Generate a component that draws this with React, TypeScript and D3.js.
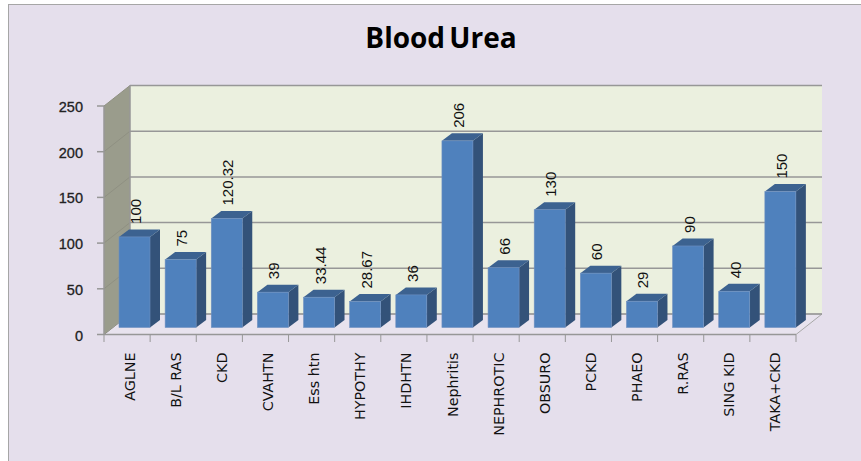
import React from "react";
import * as d3 from "d3";

const categories = ["AGLNE","B/L RAS","CKD","CVAHTN","Ess htn","HYPOTHY","IHDHTN","Nephritis","NEPHROTIC","OBSURO","PCKD","PHAEO","R.RAS","SING KID","TAKA+CKD"];
const values = [100,75,120.32,39,33.44,28.67,36,206,66,130,60,29,90,40,150];
const valueLabels = ["100","75","120.32","39","33.44","28.67","36","206","66","130","60","29","90","40","150"];
const yTicks = [0,50,100,150,200,250];
const font = "'Liberation Sans',Arial,sans-serif";
const W = 861, H = 461;

export default function App() {
  const x = d3.scaleBand<string>().domain(categories).range([104, 796]);
  const y = d3.scaleLinear().domain([0, 250]).range([334.5, 106]);
  const barY = d3.scaleLinear().domain([0, 250]).range([327.5, 101]);
  const dx = 26, dy = -20.5;
  const grid = "#979797";
  const bw = 31, barD = 10, barDy = -7.5, fx = 15;
  return (
    <svg width={W} height={H} style={{ position: "absolute", left: 0, top: 0, background: "#fff" }}>
      <rect x={8.5} y={4.5} width={W} height={H} fill="#e5dfec" stroke="#a6a6a6" />
      <text x={441} y={48} textAnchor="middle" fontFamily="'Open Sans',sans-serif" fontWeight={700} fontSize={28} wordSpacing={-3} fill="#000">Blood Urea</text>
      {/* back wall */}
      <rect x={104 + dx} y={y(250) + dy} width={692} height={y(0) - y(250)} fill="#ebf0df" />
      {/* side wall */}
      <polygon points={`104,${y(250)} ${104 + dx},${y(250) + dy} ${104 + dx},${y(0) + dy} 104,${y(0)}`} fill="#9a9c8c" />
      {/* floor */}
      <polygon points={`104,${y(0)} 796,${y(0)} ${796 + dx},${y(0) + dy} ${104 + dx},${y(0) + dy}`} fill="#e8e3ee" stroke="#a8a8a8" strokeWidth={1} />
      {yTicks.map(t => (
        <g key={t}>
          <line x1={104 + dx} x2={796 + dx} y1={y(t) + dy} y2={y(t) + dy} stroke={grid} strokeWidth={1.5} />
          <line x1={104} x2={104 + dx} y1={y(t)} y2={y(t) + dy} stroke="#8f9082" strokeWidth={1} />
          <line x1={97} x2={104} y1={y(t)} y2={y(t)} stroke={grid} strokeWidth={1.5} />
          <text x={83} y={y(t) + 6} textAnchor="end" fontFamily={font} fontSize={14.5} stroke="#222" strokeWidth={0.3} fill="#222">{t}</text>
        </g>
      ))}
      <line x1={104 + dx} x2={104 + dx} y1={y(250) + dy} y2={y(0) + dy} stroke={grid} strokeWidth={1.5} />
      <line x1={104} x2={104} y1={y(250)} y2={y(0)} stroke={grid} strokeWidth={1.5} />
      <line x1={104} x2={796} y1={y(0)} y2={y(0)} stroke={grid} strokeWidth={1.5} />
      {[...categories.map(c => x(c)!), 796].map((p, i) => (
        <line key={i} x1={p} x2={p} y1={y(0)} y2={y(0) + 7.5} stroke={grid} strokeWidth={1} />
      ))}
      {categories.map((c, i) => {
        const bx = x(c)! + fx;
        const top = barY(values[i]);
        const bot = barY(0);
        const cx = x(c)! + x.bandwidth() / 2;
        return (
          <g key={c}>
            <polygon points={`${bx + bw},${top} ${bx + bw + barD},${top + barDy} ${bx + bw + barD},${bot + barDy} ${bx + bw},${bot}`} fill="#335279" />
            <polygon points={`${bx},${top} ${bx + barD},${top + barDy} ${bx + bw + barD},${top + barDy} ${bx + bw},${top}`} fill="#3c6290" />
            <rect x={bx} y={top} width={bw} height={bot - top} fill="#4f81bd" stroke="#6f90c0" strokeWidth={0.6} />
            <text transform={`translate(${bx + 22},${top - 13}) rotate(-90)`} fontFamily={font} fontSize={15} fill="#111">{valueLabels[i]}</text>
            <text transform={`translate(${cx + 7.5},352.5) rotate(-90)`} textAnchor="end" fontFamily="'DejaVu Sans',sans-serif" fontSize={14.3} fill="#111">{c}</text>
          </g>
        );
      })}
    </svg>
  );
}
